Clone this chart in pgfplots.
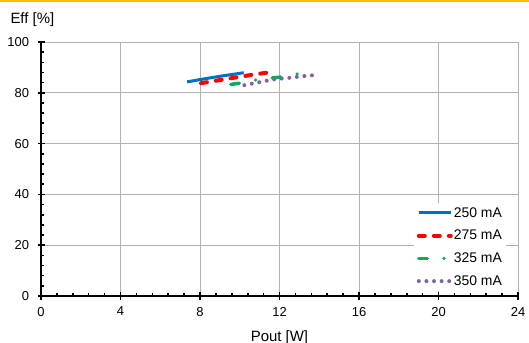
\documentclass[border=0pt]{standalone}
\usepackage{fontspec}
\setmainfont{Liberation Sans}
\usepackage{pgfplots}
\pgfplotsset{compat=1.18}

\definecolor{effblue}{RGB}{0,112,192}
\definecolor{effred}{RGB}{255,0,0}
\definecolor{effgreen}{RGB}{0,176,80}
\definecolor{effpurple}{RGB}{128,100,162}
\definecolor{topbar}{RGB}{255,192,0}

\begin{document}
\begin{tikzpicture}
\useasboundingbox (0,0) rectangle (529bp,343bp);
\fill[topbar] (0,340.5bp) rectangle (529bp,343bp);
\begin{axis}[
  at={(41bp,47bp)}, anchor=origin,
  scale only axis, width=477bp, height=254bp,
  xmin=0, xmax=24, ymin=0, ymax=100,
  xtick={0,4,...,24}, ytick={0,20,...,100},
  minor tick num=4,
  axis x line=bottom, axis y line=left,
  axis line style={-, line width=1.6pt, black},
  grid=major,
  major grid style={line width=0.8pt, black!30},
  tick align=center,
  major tick length=7bp, minor tick length=3bp,
  every tick/.style={black, line width=1.6pt},
  minor x tick style={yshift=1.5bp},
  minor y tick style={xshift=1.5bp},
  tick label style={font=\fontsize{13}{15}\selectfont},
  xticklabel style={yshift=-4bp},
  yticklabel style={xshift=-5bp},
  /pgf/number format/assume math mode=true,
  xlabel={Pout [W]}, ylabel={Eff [\%]},
  every axis x label/.style={at={(rel axis cs:0.5,0)}, anchor=north, yshift=-31bp,
    font=\fontsize{15}{17}\selectfont},
  every axis y label/.style={at={(rel axis cs:0,1)}, anchor=south west, xshift=-34bp, yshift=12bp,
    font=\fontsize{15}{17}\selectfont},
  legend cell align=left,
  legend style={draw=none, fill=white, at={(0.975,0.02)}, anchor=south east,
    font=\fontsize{14}{16}\selectfont, row sep=9.5bp, inner xsep=3bp, inner ysep=3bp,
    nodes={inner xsep=1bp, inner ysep=1bp}},
  legend image code/.code={\draw[#1] (0bp,0bp) -- (32bp,0bp);},
]
\addplot[effblue, line width=3bp] coordinates {
  (7.35,84.3) (8,85.2) (9,86.5) (10.2,87.9)
};
\addlegendentry{250 mA}
\addplot[effred, line width=4bp, line cap=round, dash pattern=on 6bp off 9bp] coordinates {
  (8.05,83.8) (9,85.0) (10,86.3) (10.8,87.3) (11.45,88.0)
};
\addlegendentry{275 mA}
\addplot[effgreen, line width=3.5bp, line cap=round, dash pattern=on 8.5bp off 16.75bp on 0bp off 16.75bp] coordinates {
  (9.55,83.3) (10.2,84.0) (10.9,85.2) (11.7,85.9) (12.3,86.4) (13.0,87.6)
};
\addlegendentry{325 mA}
\addplot[effpurple, line width=4bp, line cap=round, dash pattern=on 0bp off 7.6bp] coordinates {
  (10.23,83.0) (11.0,84.2) (11.7,85.3) (12.5,85.9) (13.25,86.6) (14.0,87.1)
};
\addlegendentry{350 mA}
\end{axis}
\end{tikzpicture}
\end{document}
